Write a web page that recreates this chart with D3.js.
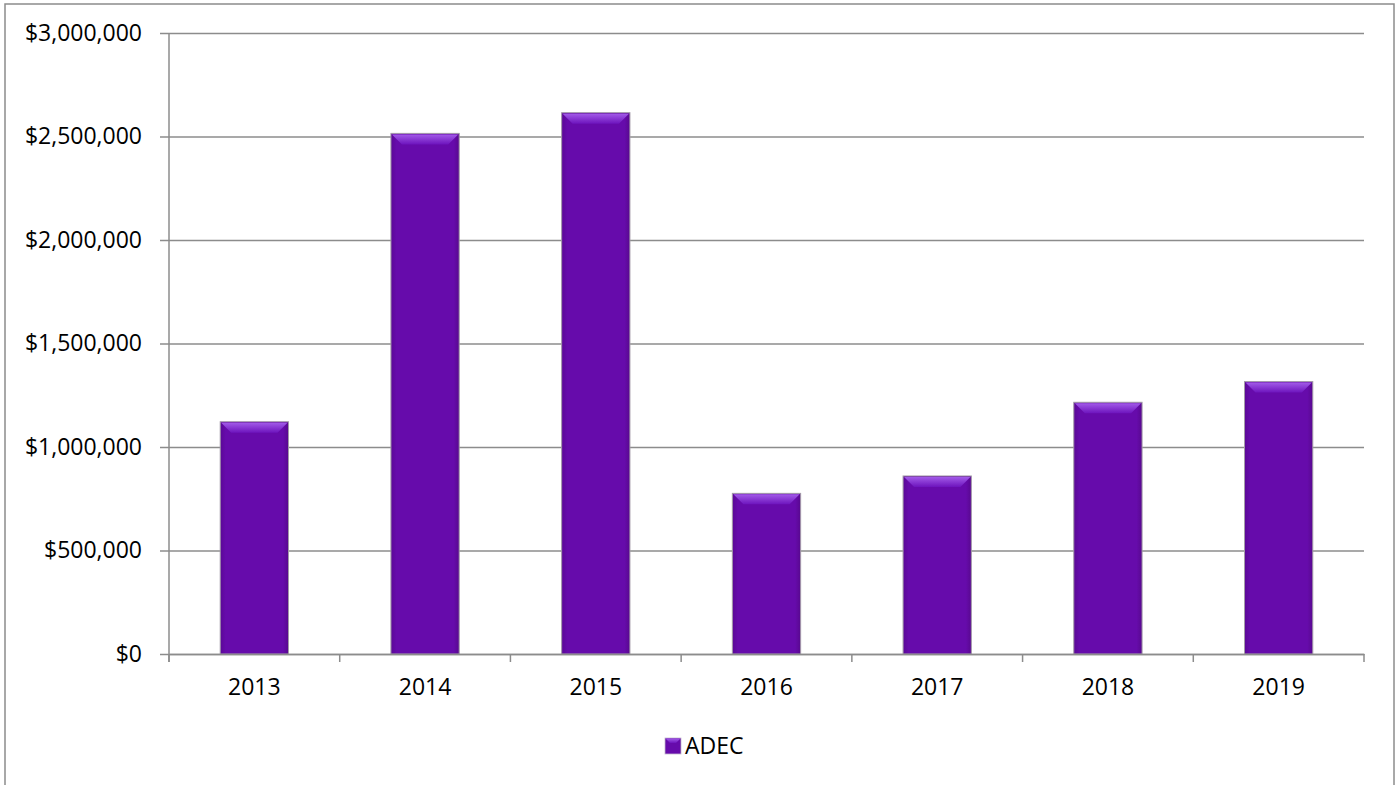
<!DOCTYPE html>
<html>
<head>
<meta charset="utf-8">
<script src="https://cdn.jsdelivr.net/npm/d3@7"></script>
<style>
  html, body { margin: 0; padding: 0; background: #fff; }
  svg { display: block; }
  svg text { font-family: "Open Sans", sans-serif; }
</style>
</head>
<body>
<div id="chart"></div>
<script>
// --- Data ---
const years = ["2013", "2014", "2015", "2016", "2017", "2018", "2019"];
const adec = [1122000, 2515000, 2615000, 776000, 860000, 1216000, 1316000];
const yTicks = [0, 500000, 1000000, 1500000, 2000000, 2500000, 3000000];
const seriesName = "ADEC";

const W = 1400, H = 785;
const plot = { left: 169, right: 1364, top: 33, bottom: 654 };

const svg = d3.select("#chart").append("svg")
  .attr("width", W).attr("height", H);

// outer chart border
svg.append("rect")
  .attr("x", 5).attr("y", 4).attr("width", 1389).attr("height", 800)
  .attr("fill", "#fff").attr("stroke", "#8c8c8c").attr("stroke-width", 1.5);

// --- Gradients for bevelled bars ---
const defs = svg.append("defs");
const body = defs.append("linearGradient").attr("id", "bar-body")
  .attr("x1", 0).attr("x2", 1).attr("y1", 0).attr("y2", 0);
body.append("stop").attr("offset", "0%").attr("stop-color", "#5a0896");
body.append("stop").attr("offset", "8%").attr("stop-color", "#660bab");
body.append("stop").attr("offset", "92%").attr("stop-color", "#660bab");
body.append("stop").attr("offset", "100%").attr("stop-color", "#58088f");
const bevel = defs.append("linearGradient").attr("id", "bar-bevel")
  .attr("x1", 0).attr("x2", 0).attr("y1", 0).attr("y2", 1);
bevel.append("stop").attr("offset", "0%").attr("stop-color", "#a25ae8");
bevel.append("stop").attr("offset", "100%").attr("stop-color", "#6d14bd");

// --- Scales ---
const x = d3.scaleBand().domain(years).range([plot.left, plot.right]).padding(0);
const y = d3.scaleLinear().domain([0, 3000000]).range([plot.bottom, plot.top]);
const fmt = d => "$" + d3.format(",")(d);

// --- Gridlines + y axis ---
const yAxis = svg.append("g")
  .attr("transform", `translate(${plot.left},0)`)
  .call(d3.axisLeft(y).tickValues(yTicks).tickFormat(fmt)
    .tickSize(-(plot.right - plot.left)).tickPadding(27));
yAxis.select(".domain").remove();
yAxis.selectAll(".tick line")
  .attr("stroke", "#8c8c8c").attr("stroke-width", 1.3)
  .attr("x1", -9);
yAxis.selectAll("text")
  .attr("fill", "#000").style("font-size", "23px");

// left axis line
svg.append("line")
  .attr("x1", plot.left).attr("x2", plot.left)
  .attr("y1", plot.top).attr("y2", plot.bottom + 8)
  .attr("stroke", "#8c8c8c").attr("stroke-width", 1.5);

// --- Bars ---
const bw = x.bandwidth() * 0.4;
const bars = svg.append("g").selectAll("g").data(adec).join("g")
  .attr("transform", (d, i) => `translate(${x(years[i]) + (x.bandwidth() - bw) / 2},${y(d)})`);
bars.append("rect")
  .attr("width", bw)
  .attr("height", d => y(0) - y(d))
  .attr("fill", "url(#bar-body)")
  .attr("stroke", "#a39aa8").attr("stroke-width", 1);
bars.append("path")
  .attr("d", `M1,1 L${bw - 1},1 L${bw - 11},11 L11,11 Z`)
  .attr("fill", "url(#bar-bevel)");

// --- x axis ---
const xAxis = svg.append("g")
  .attr("transform", `translate(0,${plot.bottom})`)
  .call(d3.axisBottom(x).tickSize(0).tickPadding(25));
xAxis.select(".domain").attr("stroke", "#8c8c8c").attr("stroke-width", 1.5);
xAxis.selectAll("text").attr("fill", "#000").style("font-size", "23px");
svg.append("g").selectAll("line")
  .data(years.map(d => x(d)).concat([plot.right]))
  .join("line")
  .attr("x1", d => d).attr("x2", d => d)
  .attr("y1", plot.bottom).attr("y2", plot.bottom + 8)
  .attr("stroke", "#8c8c8c").attr("stroke-width", 1.5);

// --- Legend ---
const lg = svg.append("g").attr("transform", "translate(665,738)");
lg.append("rect").attr("width", 16).attr("height", 16)
  .attr("fill", "url(#bar-body)").attr("stroke", "#c4b8d0").attr("stroke-width", 0.8);
lg.append("path").attr("d", "M0.5,0.5 L15.5,0.5 L11,5 L5,5 Z").attr("fill", "url(#bar-bevel)");
lg.append("text").attr("x", 20).attr("y", 16)
  .style("font-size", "23px").attr("fill", "#000").text(seriesName);
</script>
</body>
</html>
